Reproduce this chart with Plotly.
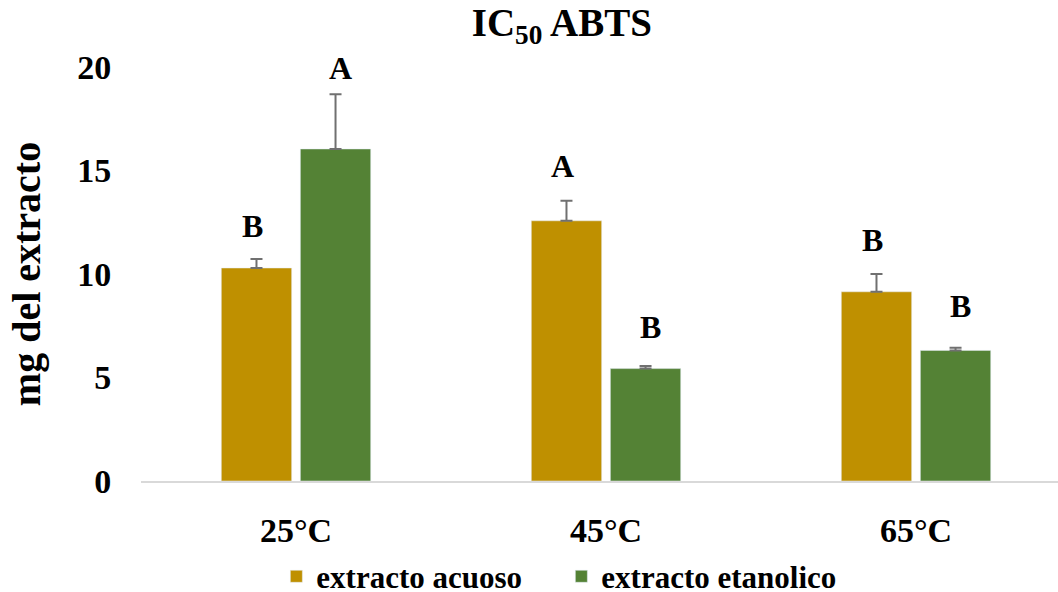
import plotly.graph_objects as go

categories = ["25°C", "45°C", "65°C"]
acuoso = [10.29, 12.57, 9.14]
acuoso_err = [0.43, 0.97, 0.86]
etanolico = [16.04, 5.43, 6.31]
etanolico_err = [2.64, 0.13, 0.13]
acuoso_letters = ["B", "A", "B"]
acuoso_letter_y = [12.3, 15.2, 11.64]
etanolico_letters = ["A", "B", "B"]
etanolico_letter_y = [19.95, 7.44, 8.45]
y_ticks = [0, 5, 10, 15, 20]

FONT = "Liberation Serif"
ACU = "#BF9000"
ETA = "#548235"
ERR = "#707070"

fig = go.Figure()
fig.add_trace(go.Bar(
    name="extracto acuoso", x=categories, y=acuoso, marker_color=ACU,
    error_y=dict(type="data", array=acuoso_err, symmetric=False, arrayminus=[0, 0, 0],
                 color=ERR, thickness=2, width=6),
))
fig.add_trace(go.Bar(
    name="extracto etanolico", x=categories, y=etanolico, marker_color=ETA,
    error_y=dict(type="data", array=etanolico_err, symmetric=False, arrayminus=[0, 0, 0],
                 color=ERR, thickness=2, width=6),
))

for c, t, yy in zip(categories, acuoso_letters, acuoso_letter_y):
    fig.add_annotation(x=c, y=yy, text=t, showarrow=False, xshift=-44,
                       font=dict(family=FONT, size=32, color="black", weight="bold"))
for c, t, yy in zip(categories, etanolico_letters, etanolico_letter_y):
    fig.add_annotation(x=c, y=yy, text=t, showarrow=False, xshift=44,
                       font=dict(family=FONT, size=32, color="black", weight="bold"))

fig.update_layout(
    width=1058, height=592,
    margin=dict(l=141, r=0, t=67, b=111, autoexpand=False),
    paper_bgcolor="white", plot_bgcolor="white",
    barmode="group", bargap=0.49, bargroupgap=0.11,
    font=dict(family=FONT, color="black", weight="bold"),
    title=dict(text="IC<sub>50</sub> ABTS", x=0.531, xanchor="center",
               y=0.962, yanchor="middle",
               font=dict(family=FONT, size=39, color="black", weight="bold")),
    xaxis=dict(type="category", range=[-0.5, 2.458], showline=True, linecolor="#D9D9D9",
               linewidth=2, showgrid=False, ticks="outside", ticklen=18,
               tickcolor="rgba(0,0,0,0)", automargin=False,
               tickfont=dict(family=FONT, size=34, color="black", weight="bold"),
               zeroline=False),
    yaxis=dict(range=[0, 20], tickvals=y_ticks, showgrid=False, showline=False, zeroline=False,
               ticks="outside", ticklen=22, tickcolor="rgba(0,0,0,0)", automargin=False,
               tickfont=dict(family=FONT, size=34, color="black", weight="bold"),
               title=dict(text="mg del extracto", standoff=24,
                          font=dict(family=FONT, size=40, color="black", weight="bold"))),
    legend=dict(orientation="h", x=0.1476, xanchor="left", y=-0.231, yanchor="middle",
                font=dict(family=FONT, size=31, color="black", weight="bold"),
                entrywidth=240, entrywidthmode="pixels", traceorder="normal"),
    showlegend=True,
)

fig.write_html("out.html", config={"displayModeBar": False},
               post_script="document.body.style.margin='0px';")
